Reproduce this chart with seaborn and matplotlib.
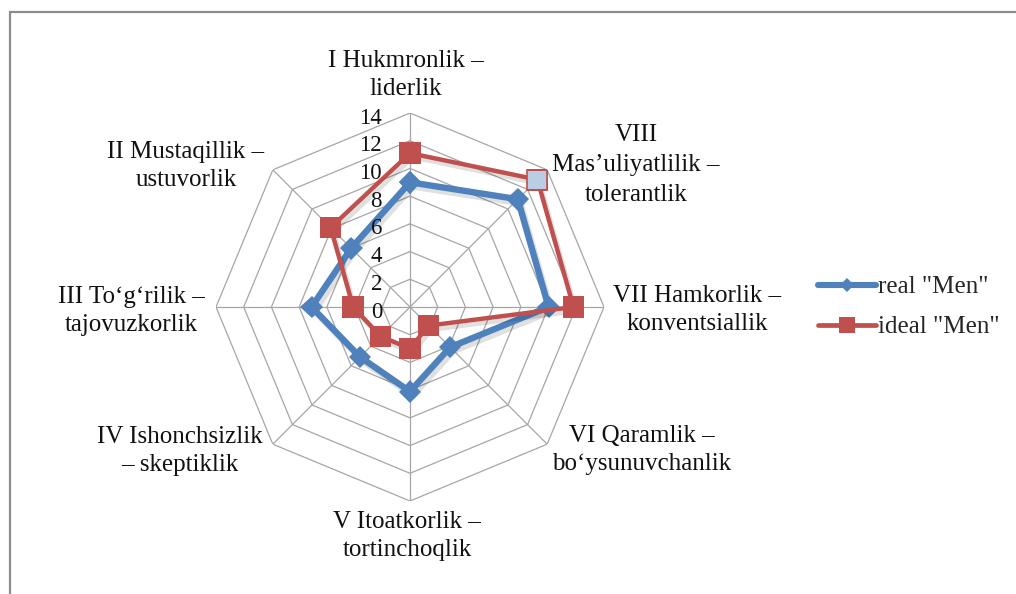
import numpy as np
import pandas as pd
import matplotlib
matplotlib.use('Agg')
import matplotlib.pyplot as plt
import matplotlib.patheffects as pe
from matplotlib.lines import Line2D
import seaborn as sns

# Ma'lumotlar
categories = [
    "I Hukmronlik –\nliderlik",
    "II Mustaqillik –\nustuvorlik",
    "III To‘g‘rilik –\ntajovuzkorlik",
    "IV Ishonchsizlik\n– skeptiklik",
    "V Itoatkorlik –\ntortinchoqlik",
    "VI Qaramlik –\nbo‘ysunuvchanlik",
    "VII Hamkorlik –\nkonventsiallik",
    "VIII\nMas’uliyatlilik –\ntolerantlik",
]
real_men = [9.0, 6.0, 7.1, 5.1, 6.1, 4.1, 10.0, 11.0]
ideal_men = [11.1, 8.1, 4.1, 3.0, 3.0, 1.9, 11.8, 13.0]
r_ticks = [0, 2, 4, 6, 8, 10, 12, 14]
series_names = ['real "Men"', 'ideal "Men"']

BLUE = '#4F81BD'
RED = '#C0504D'
GRID = '#a6a6a6'

sns.set_theme(style='white')
plt.rcParams['font.family'] = ['Liberation Serif', 'DejaVu Serif']

W, H = 1016, 594
fig = plt.figure(figsize=(W / 100, H / 100), dpi=100)

# centre (410, 307), radius 194 px
cx, cy, rad = 410, 307, 194
ax = fig.add_axes([(cx - rad) / W, (H - cy - rad) / H, 2 * rad / W, 2 * rad / H],
                  projection='polar')
ax.set_theta_zero_location('N')
ax.set_theta_direction(1)
ax.grid(False)
ax.spines['polar'].set_visible(False)
ax.set_xticks([])
ax.set_yticks([])
ax.patch.set_alpha(0)

n = len(categories)
theta = np.linspace(0, 2 * np.pi, n, endpoint=False)
theta_c = np.append(theta, theta[0] + 2 * np.pi)

# octagon grid
for lev in r_ticks[1:]:
    ax.plot(theta_c, [lev] * (n + 1), color=GRID, lw=0.9, zorder=1)
for t in theta:
    ax.plot([t, t], [0, r_ticks[-1]], color=GRID, lw=0.9, zorder=1)

df = pd.DataFrame({
    'theta': np.concatenate([theta_c, theta_c]),
    'value': real_men + real_men[:1] + ideal_men + ideal_men[:1],
    'series': [series_names[0]] * (n + 1) + [series_names[1]] * (n + 1),
})

shadow = [pe.SimpleLineShadow(offset=(2, -3), shadow_color='#000000', alpha=0.12), pe.Normal()]

d = df[df['series'] == series_names[0]]
sns.lineplot(data=d, x='theta', y='value', sort=False, ax=ax, color=BLUE,
             lw=4.6, marker='D', markersize=11.5, markeredgecolor=BLUE,
             markeredgewidth=0, zorder=3, legend=False, path_effects=shadow)
d = df[df['series'] == series_names[1]]
sns.lineplot(data=d, x='theta', y='value', sort=False, ax=ax, color=RED,
             lw=3.2, marker='s', markersize=15.5, markeredgecolor=RED,
             markeredgewidth=0, zorder=4, legend=False, path_effects=shadow)
# highlighted point (VIII)
ax.plot(theta[7], ideal_men[7], marker='s', markersize=14.5, color='#B9CDE5',
        markeredgecolor=RED, markeredgewidth=1.2, zorder=5, ls='none')
ax.set_ylim(0, 14)
ax.set_xlabel('')
ax.set_ylabel('')

# radial tick labels
for v in r_ticks:
    ax.annotate(str(v), xy=(0, v), xytext=(-28, -5), textcoords='offset pixels',
                ha='right', va='center', fontsize=16.5, color='#111111')

# category labels (pixel centres)
label_pos = [(406, 75), (186, 166), (131, 311), (180, 451),
             (407, 536), (642, 450), (697, 310), (636, 165)]
for i, (lab, (px, py)) in enumerate(zip(categories, label_pos)):
    fig.text(px / W, 1 - py / H, lab, ha='center', va='center', fontsize=18,
             linespacing=1.45 if i == 7 else 1.3, color='#111111')

handles = [
    Line2D([], [], color=BLUE, lw=4.4, marker='D', markersize=7.5, markeredgewidth=0),
    Line2D([], [], color=RED, lw=3.4, marker='s', markersize=12, markeredgewidth=0),
]
fig.legend(handles, series_names, loc='center left',
           bbox_to_anchor=(818 / W, 1 - 307 / H), frameon=False, fontsize=18,
           handlelength=2.3, handletextpad=0.1, labelspacing=0.7,
           borderpad=0, borderaxespad=0)

# chart border (left and top visible)
fig.add_artist(plt.Rectangle((9.5 / W, -0.2), 1.5, 1.2 - 12.5 / H,
                             transform=fig.transFigure, fill=False,
                             ec='#8c8c8c', lw=1.6))

fig.savefig('out.png', dpi=100)
